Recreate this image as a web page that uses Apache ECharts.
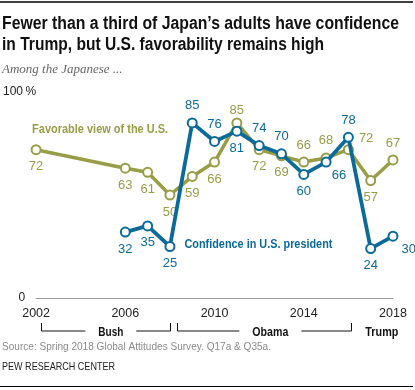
<!DOCTYPE html>
<html><head><meta charset="utf-8">
<script src="https://cdn.jsdelivr.net/npm/echarts@6/dist/echarts.min.js"></script>
<style>html,body{margin:0;padding:0;background:#fff}#c{width:415px;height:390px}</style>
</head><body><div id="c"></div>
<script>
// ---- data ----
const favYears = [2002, 2006, 2007, 2008, 2009, 2010, 2011, 2012, 2013, 2014, 2015, 2016, 2017, 2018];
const favValues = [72, 63, 61, 50, 59, 66, 85, 72, 69, 66, 68, 72, 57, 67];
const confYears = [2006, 2007, 2008, 2009, 2010, 2011, 2012, 2013, 2014, 2015, 2016, 2017, 2018];
const confValues = [32, 35, 25, 85, 76, 81, 74, 70, 60, 66, 78, 24, 30];
const xTickLabels = ['2002', '2006', '2010', '2014', '2018'];
const yTickLabels = ['0', '100\u2009%'];
const eraNames = ['Bush', 'Obama', 'Trump'];
const eraFrom = [2002.2, 2008.3, null];
const eraTo = [2008.0, 2016.1, null];
const eraLabelAt = [2005.35, 2012.5, 2017.5];
const seriesNames = ['Favorable view of the U.S.', 'Confidence in U.S. president'];
const seriesNameAnchor = [[2001.82, 82], [2008.65, 26.2]];
const titleLines = ['Fewer than a third of Japan\u2019s adults have confidence', 'in Trump, but U.S. favorability remains high'];
const subtitle = 'Among the Japanese ...';
const sourceText = 'Source: Spring 2018 Global Attitudes Survey. Q17a & Q35a.';
const creditText = 'PEW RESEARCH CENTER';

// ---- label placement (style) ----
const favLabelPos = ['bottom','bottom','bottom','bottom','bottom','bottom','top','bottom','bottom','top','top','right','bottom','top'];
const favLabelOffset = [null,null,null,null,null,null,[0,5],null,null,null,null,[0,-11],null,null];
const confLabelPos = ['bottom','bottom','bottom','top','top','bottom','top','top','bottom','bottom','top','bottom','right'];
const confLabelOffset = [null,null,null,null,null,null,null,null,null,[13,-4],null,null,[-2,13]];

const OLIVE = '#989d47';
const BLUE = '#0c6a9a';
const FONT = '"Liberation Sans", Arial, sans-serif';

const measureCtx = document.createElement('canvas').getContext('2d');
function fitScale(text, font, target) {
  measureCtx.font = font;
  const w = measureCtx.measureText(text).width;
  return w > 0 ? target / w : 1;
}

function buildData(years, vals, pos, off) {
  return years.map((y, i) => {
    const item = { value: [y, vals[i]], label: { position: pos[i] } };
    if (off[i]) item.label.offset = off[i];
    return item;
  });
}

const chart = echarts.init(document.getElementById('c'), null, { renderer: 'canvas' });

function seriesBase(name, color, data, z, width) {
  return {
    name, type: 'line', data, z,
    lineStyle: { color, width },
    itemStyle: { color: '#fff', borderColor: color, borderWidth: 2 },
    symbol: 'circle', symbolSize: 9,
    label: { show: true, color, fontSize: 13, fontFamily: FONT, distance: 5,
      formatter: p => p.value[1] },
    emphasis: { disabled: true },
    animation: false
  };
}

const option = {
  animation: false,
  grid: { left: 35, right: 22, top: 92, bottom: 92, containLabel: false },
  xAxis: {
    type: 'value', min: 2002, max: 2018, interval: 4,
    axisLine: { show: true, lineStyle: { color: '#9a9a9a', width: 1 } },
    axisTick: { show: false }, splitLine: { show: false },
    axisLabel: { color: '#222', fontSize: 12.5, fontFamily: FONT, margin: 9,
      formatter: v => xTickLabels[(v - 2002) / 4] }
  },
  yAxis: {
    type: 'value', min: 0, max: 100, interval: 100,
    axisLine: { show: false }, axisTick: { show: false }, splitLine: { show: false },
    axisLabel: { color: '#222', fontSize: 12, fontFamily: FONT, margin: 0, align: 'right',
      formatter: v => v === 0 ? '{a|' + yTickLabels[0] + '}' : '{b|' + yTickLabels[1] + '}',
      rich: { a: { padding: [0, 11, 0, 0], fontSize: 12, fontFamily: FONT, color: '#222' },
              b: { padding: [0, 0, 0, 0], fontSize: 12, fontFamily: FONT, color: '#222' } } }
  },
  series: [
    seriesBase(seriesNames[0], OLIVE, buildData(favYears, favValues, favLabelPos, favLabelOffset), 2, 3.5),
    seriesBase(seriesNames[1], BLUE, buildData(confYears, confValues, confLabelPos, confLabelOffset), 3, 3.8)
  ]
};
chart.setOption(option);

const px = (x, y) => chart.convertToPixel({ gridIndex: 0 }, [x, y]);
const g = [];
function fitText(text, x, y, font, fill, targetW, extra) {
  const s = fitScale(text, font, targetW);
  return Object.assign({ type: 'text', x, y, scaleX: s,
    style: { text, fill, font, textVerticalAlign: 'middle' } }, extra || {});
}
// frame lines
g.push({ type: 'line', shape: { x1: 0, y1: 2, x2: 413, y2: 2 }, style: { stroke: '#000', lineWidth: 1.5 } });
g.push({ type: 'line', shape: { x1: 0, y1: 386.5, x2: 413, y2: 386.5 }, style: { stroke: '#000', lineWidth: 1 } });
// title
const titleFont = 'bold 17.5px "Liberation Sans", Arial, sans-serif';
const titleW = [397, 322];
titleLines.forEach((t, i) => g.push(fitText(t, 2, 24 + i * 21, titleFont, '#111', titleW[i])));
g.push({ type: 'text', x: 2, y: 69.5, style: { text: subtitle, fill: '#666', font: 'italic 13px "Liberation Serif", serif', textVerticalAlign: 'middle' } });
g.push(fitText(sourceText, 2, 347, '11.5px ' + FONT, '#8a8a8a', 269));
g.push(fitText(creditText, 2, 367, '11px ' + FONT, '#222', 113));
// series name annotations
const nameW = [136, 148];
[OLIVE, BLUE].forEach((c, i) => {
  const p = px(seriesNameAnchor[i][0], seriesNameAnchor[i][1]);
  g.push(fitText(seriesNames[i], p[0], p[1], 'bold 13px ' + FONT, c, nameW[i]));
});
// era brackets
const yBar = 331, yTop = 323;
const eraW = [25, 36, 33];
eraNames.forEach((n, i) => {
  const cx = px(eraLabelAt[i], 0)[0];
  const font = 'bold 13px ' + FONT;
  const s = fitScale(n, font, eraW[i]);
  g.push({ type: 'text', x: cx - eraW[i] / 2, y: 332, scaleX: s, style: { text: n, fill: '#111', font, textVerticalAlign: 'middle' } });
  if (eraFrom[i] !== null) {
    const x1 = Math.round(px(eraFrom[i], 0)[0]) + 0.5, x2 = Math.round(px(eraTo[i], 0)[0]) + 0.5;
    const gap = eraW[i] / 2 + 13;
    g.push({ type: 'polyline', shape: { points: [[x1, yTop], [x1, yBar], [cx - gap, yBar]] }, style: { stroke: '#111', lineWidth: 1, fill: null } });
    g.push({ type: 'polyline', shape: { points: [[cx + gap, yBar], [x2, yBar], [x2, yTop]] }, style: { stroke: '#111', lineWidth: 1, fill: null } });
  }
});
chart.setOption({ graphic: g });
</script></body></html>
